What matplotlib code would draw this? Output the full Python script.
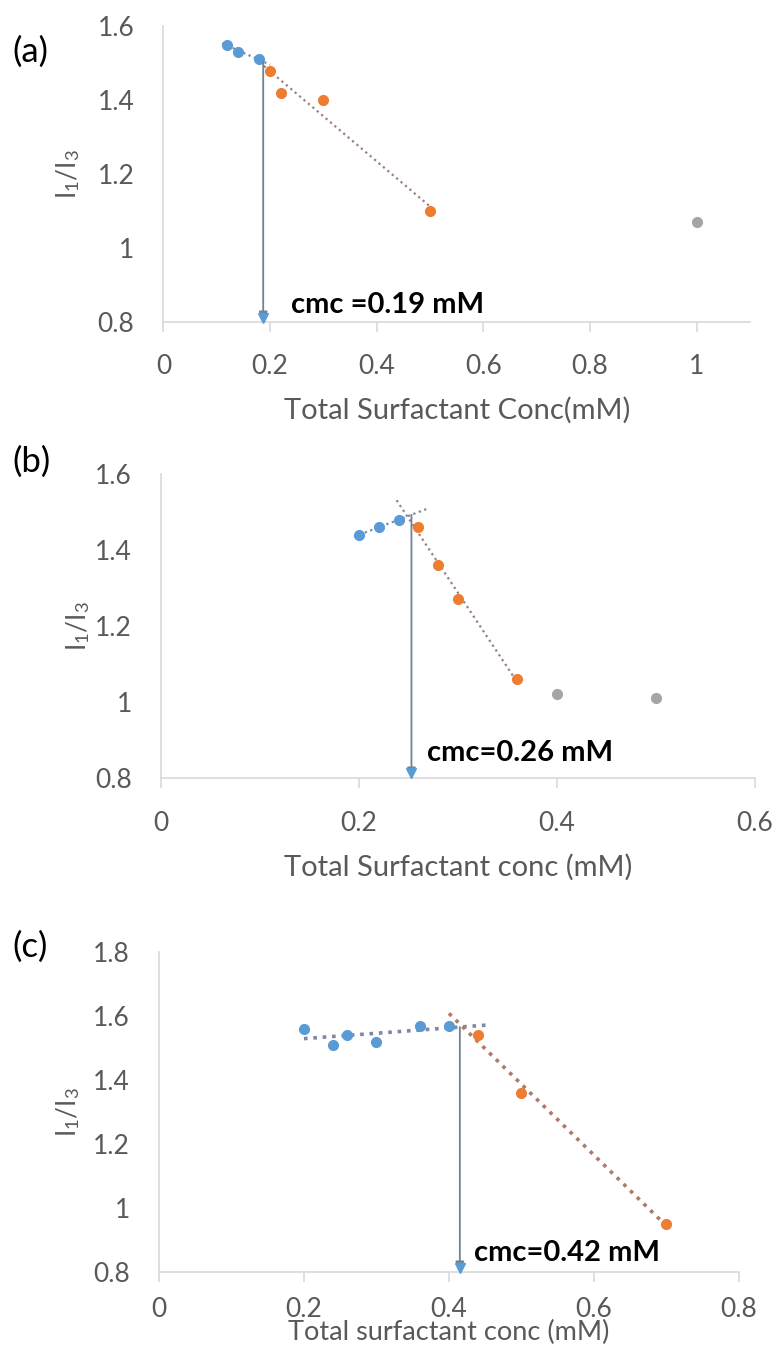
import numpy as np
import matplotlib
matplotlib.use('Agg')
import matplotlib.pyplot as plt
from matplotlib.ticker import FormatStrFormatter

plt.rcParams['font.family'] = ['Lato', 'DejaVu Sans']
plt.rcParams['mathtext.fontset'] = 'custom'
plt.rcParams['mathtext.rm'] = 'Lato'
plt.rcParams['mathtext.it'] = 'Lato:italic'

BLUE = '#5b9bd5'
ORANGE = '#ed7d31'
GRAY = '#a5a5a5'
TXT = '#595959'
AXIS = '#d9d9d9'

# (a)
a_blue_x = [0.12, 0.14, 0.18]
a_blue_y = [1.55, 1.53, 1.51]
a_orange_x = [0.20, 0.22, 0.30, 0.50]
a_orange_y = [1.48, 1.42, 1.40, 1.10]
a_gray_x = [1.0]
a_gray_y = [1.07]
a_arrow_x = 0.187
a_cmc_text = 'cmc =0.19 mM'

# (b)
b_blue_x = [0.20, 0.22, 0.24]
b_blue_y = [1.44, 1.46, 1.48]
b_orange_x = [0.26, 0.28, 0.30, 0.36]
b_orange_y = [1.46, 1.36, 1.27, 1.06]
b_gray_x = [0.40, 0.50]
b_gray_y = [1.02, 1.01]
b_arrow_x = 0.253
b_cmc_text = 'cmc=0.26 mM'

# (c)
c_blue_x = [0.20, 0.24, 0.26, 0.30, 0.36, 0.40]
c_blue_y = [1.56, 1.51, 1.54, 1.52, 1.57, 1.57]
c_orange_x = [0.44, 0.50, 0.70]
c_orange_y = [1.54, 1.36, 0.95]
c_arrow_x = 0.415
c_cmc_text = 'cmc=0.42 mM'

fig = plt.figure(figsize=(7.8, 13.6), dpi=100)


def trend(ax, x, y, x0, x1, color, lw):
    k, b = np.polyfit(x, y, 1)
    xs = np.array([x0, x1])
    ax.plot(xs, k * xs + b, linestyle=(0, (1, 1.6)), color=color, lw=lw, zorder=2)
    return k, b


def panel(rect, xlim, ylim, xticks, yticks, xlabel, xlab_y, xlab_size, xpad, tag, tag_y):
    ax = fig.add_axes(rect)
    ax.set_xlim(*xlim)
    ax.set_ylim(*ylim)
    ax.set_xticks(xticks)
    ax.set_yticks(yticks)
    ax.xaxis.set_major_formatter(FormatStrFormatter('%g'))
    ax.yaxis.set_major_formatter(FormatStrFormatter('%g'))
    for s in ['top', 'right']:
        ax.spines[s].set_visible(False)
    for s in ['left', 'bottom']:
        ax.spines[s].set_color(AXIS)
        ax.spines[s].set_linewidth(1.2)
    ax.tick_params(axis='x', length=7, width=1.2, color=AXIS, labelsize=19,
                   labelcolor=TXT, pad=xpad)
    ax.tick_params(axis='y', length=0, labelsize=19, labelcolor=TXT, pad=21)
    ax.set_xlabel(xlabel, fontsize=xlab_size, color=TXT, va='center')
    ax.xaxis.set_label_coords(0.5, xlab_y)
    ax.set_ylabel(r'I$_1$/I$_3$', fontsize=19, color=TXT, va='center')
    fig.text(12 / 780, tag_y, tag, fontsize=25, ha='left', va='center')
    return ax


def cmc_arrow(ax, x, ytop, text, dx, dy):
    ybot = ax.get_ylim()[0]
    ax.annotate('', xy=(x, ybot), xytext=(x, ytop),
                arrowprops=dict(arrowstyle='-|>,head_length=0.6,head_width=0.25',
                                color='#6f8296', lw=1.3, shrinkA=0, shrinkB=0),
                zorder=4)
    ax.plot([x], [ybot + 0.012], marker='v', ms=7, color=BLUE, zorder=5, clip_on=False)
    ax.annotate(text, xy=(x, ybot), xytext=(dx, dy), textcoords='offset points',
                fontsize=21, fontweight='bold', ha='left', va='center', color='black')


# ---- panel (a)
ax = panel([0.2096, 0.7632, 0.752, 0.2176], (0, 1.1), (0.8, 1.6),
           np.arange(0, 1.01, 0.2), np.arange(0.8, 1.61, 0.2),
           'Total Surfactant Conc(mM)', -0.297, 21, 16, '(a)', 1 - 52 / 1360)
kb, bb = trend(ax, a_blue_x, a_blue_y, 0.11, 0.20, '#7f86a6', 1.6)
trend(ax, a_orange_x, a_orange_y, 0.18, 0.50, '#9a7f80', 1.6)
ax.plot(a_blue_x, a_blue_y, 'o', ms=7, color=BLUE, zorder=3)
ax.plot(a_orange_x, a_orange_y, 'o', ms=7, color=ORANGE, zorder=3)
ax.plot(a_gray_x, a_gray_y, 'o', ms=7, color=GRAY, zorder=3)
cmc_arrow(ax, a_arrow_x, kb * a_arrow_x + bb, a_cmc_text, 20, 12)
ax.yaxis.set_label_coords(-0.163, 0.5)

# ---- panel (b)
ax = panel([0.2064, 0.4279, 0.7615, 0.2235], (0, 0.6), (0.8, 1.6),
           np.arange(0, 0.61, 0.2), np.arange(0.8, 1.61, 0.2),
           'Total Surfactant conc (mM)', -0.293, 21, 17, '(b)', 1 - 462 / 1360)
kb, bb = trend(ax, b_blue_x, b_blue_y, 0.195, 0.27, '#7f86a6', 1.6)
trend(ax, b_orange_x, b_orange_y, 0.238, 0.36, '#9a7f80', 1.6)
ax.plot(b_blue_x, b_blue_y, 'o', ms=7, color=BLUE, zorder=3)
ax.plot(b_orange_x, b_orange_y, 'o', ms=7, color=ORANGE, zorder=3)
ax.plot(b_gray_x, b_gray_y, 'o', ms=7, color=GRAY, zorder=3)
cmc_arrow(ax, b_arrow_x, kb * b_arrow_x + bb, b_cmc_text, 11, 18)
ax.yaxis.set_label_coords(-0.14, 0.5)

# ---- panel (c)
ax = panel([0.2038, 0.0647, 0.7436, 0.2353], (0, 0.8), (0.8, 1.8),
           np.arange(0, 0.81, 0.2), np.arange(0.8, 1.81, 0.2),
           'Total surfactant conc (mM)', -0.1875, 19.5, 11, '(c)', 1 - 947 / 1360)
kb, bb = trend(ax, c_blue_x, c_blue_y, 0.20, 0.455, '#7f86a6', 2.6)
trend(ax, c_orange_x, c_orange_y, 0.40, 0.70, '#b07a68', 2.6)
ax.plot(c_blue_x, c_blue_y, 'o', ms=7, color=BLUE, zorder=3)
ax.plot(c_orange_x, c_orange_y, 'o', ms=7, color=ORANGE, zorder=3)
cmc_arrow(ax, c_arrow_x, kb * c_arrow_x + bb, c_cmc_text, 10, 14)
ax.yaxis.set_label_coords(-0.157, 0.5)

fig.savefig('out.png', dpi=100)
